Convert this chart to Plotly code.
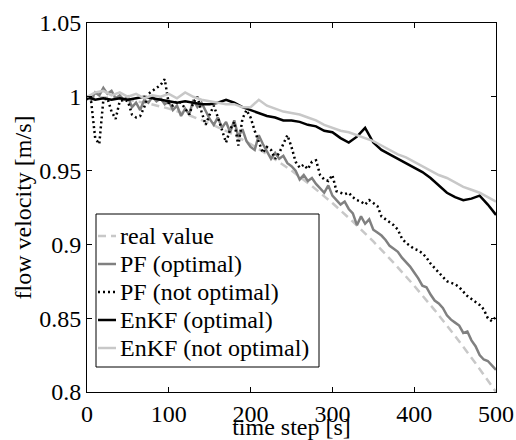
import plotly.graph_objects as go

# ---- data ----
t_real = list(range(0, 501, 25))
real_value = [1.0, 0.9995, 0.998, 0.9955, 0.992, 0.9875, 0.982, 0.9755, 0.968, 0.9595,
              0.95, 0.9395, 0.928, 0.9155, 0.902, 0.8875, 0.872, 0.8555, 0.838, 0.8195, 0.80]

t_pf = list(range(0, 501, 5))
pf_optimal = [
    1.000, 0.998, 1.003, 1.001, 1.006, 1.002, 1.004, 0.999, 1.001, 0.998,
    1.000, 0.993, 0.996, 0.991, 0.998, 0.996, 1.000, 0.997, 0.999, 0.995,
    0.997, 0.991, 0.994, 0.987, 0.992, 0.988, 0.998, 0.993, 0.996, 0.990,
    0.985, 0.981, 0.986, 0.979, 0.983, 0.976, 0.984, 0.973, 0.978, 0.970,
    0.966, 0.964, 0.974, 0.968, 0.963, 0.958, 0.962, 0.958, 0.960, 0.955,
    0.953, 0.950, 0.944, 0.947, 0.943, 0.945, 0.941, 0.938, 0.935, 0.940,
    0.933, 0.930, 0.927, 0.929, 0.924, 0.921, 0.913, 0.919, 0.914, 0.917,
    0.910, 0.908, 0.906, 0.903, 0.899, 0.897, 0.895, 0.891, 0.888, 0.885,
    0.881, 0.877, 0.872, 0.871, 0.866, 0.862, 0.860, 0.857, 0.852, 0.849,
    0.847, 0.845, 0.840, 0.841, 0.835, 0.831, 0.825, 0.822, 0.821, 0.818,
    0.815]
pf_not_optimal = [
    0.999, 0.997, 0.972, 0.968, 0.998, 0.999, 0.990, 0.985, 0.997, 0.998,
    0.997, 0.988, 0.986, 0.987, 0.993, 1.002, 1.004, 1.006, 1.008, 1.012,
    0.995, 0.994, 0.997, 0.996, 0.992, 0.988, 0.996, 1.000, 0.990, 0.981,
    0.988, 0.994, 0.986, 0.978, 0.969, 0.978, 0.983, 0.967, 0.985, 0.991,
    0.986, 0.977, 0.970, 0.962, 0.966, 0.964, 0.958, 0.962, 0.968, 0.974,
    0.966, 0.956, 0.952, 0.954, 0.951, 0.956, 0.957, 0.947, 0.944, 0.943,
    0.947, 0.936, 0.935, 0.934, 0.935, 0.932, 0.930, 0.929, 0.927, 0.930,
    0.928, 0.926, 0.919, 0.917, 0.915, 0.913, 0.910, 0.904, 0.901, 0.899,
    0.897, 0.896, 0.894, 0.891, 0.887, 0.884, 0.881, 0.878, 0.875, 0.874,
    0.873, 0.871, 0.868, 0.865, 0.863, 0.861, 0.859, 0.856, 0.850, 0.848,
    0.851]

t_enkf = list(range(0, 501, 10))
enkf_optimal = [
    1.000, 0.998, 0.999, 0.998, 0.999, 0.998, 0.999, 1.000, 0.999, 0.998,
    0.997, 0.996, 0.997, 0.996, 0.995, 0.995, 0.996, 0.998, 0.996, 0.993,
    0.991, 0.989, 0.987, 0.986, 0.984, 0.984, 0.983, 0.981, 0.980, 0.977,
    0.976, 0.972, 0.969, 0.973, 0.979, 0.969, 0.964, 0.961, 0.958, 0.955,
    0.952, 0.949, 0.945, 0.940, 0.935, 0.932, 0.930, 0.931, 0.933, 0.927,
    0.920]
enkf_not_optimal = [
    1.000, 1.003, 1.004, 1.001, 1.003, 1.000, 1.002, 0.999, 1.001, 1.000,
    1.002, 0.999, 1.003, 1.000, 0.998, 0.997, 0.996, 0.995, 0.995, 0.993,
    0.993, 0.998, 0.994, 0.992, 0.990, 0.989, 0.988, 0.986, 0.984, 0.981,
    0.979, 0.977, 0.976, 0.974, 0.972, 0.970, 0.967, 0.964, 0.961, 0.959,
    0.956, 0.953, 0.950, 0.947, 0.945, 0.942, 0.939, 0.937, 0.935, 0.932,
    0.929]

series_names = ["real value", "PF (optimal)", "PF (not optimal)",
                "EnKF (optimal)", "EnKF (not optimal)"]

x_ticks = [0, 100, 200, 300, 400, 500]
y_ticks = [0.8, 0.85, 0.9, 0.95, 1.0, 1.05]
y_tick_labels = ["0.8", "0.85", "0.9", "0.95", "1", "1.05"]

FONT = "Liberation Serif, Times New Roman, serif"
FS = 24

styles = [
    dict(color="#c8c8c8", width=2.5, dash="8px,5px"),
    dict(color="#808080", width=2.5),
    dict(color="#000000", width=2.5, dash="2px,3px"),
    dict(color="#000000", width=2.5),
    dict(color="#c8c8c8", width=2.5),
]
xs = [t_real, t_pf, t_pf, t_enkf, t_enkf]
ys = [real_value, pf_optimal, pf_not_optimal, enkf_optimal, enkf_not_optimal]

fig = go.Figure()
for name, x, y, st in zip(series_names, xs, ys, styles):
    fig.add_trace(go.Scatter(x=x, y=y, mode="lines", name=name, line=st,
                             showlegend=False))

axis_common = dict(showline=True, linecolor="black", linewidth=1, mirror="ticks",
                   ticks="inside", ticklen=5, tickcolor="black", showgrid=False,
                   zeroline=False, automargin=False,
                   tickfont=dict(family=FONT, size=FS, color="black"))

# plot area in pixels: left 87, right 496, top 23, bottom 392
L, R, T, B = 87, 496, 23, 392
W, H = R - L, B - T


def px_x(p):
    return (p - L) / W


def px_y(p):
    return (B - p) / H


shapes = []
annotations = []
# hand-placed legend box (MATLAB-style, compact)
shapes.append(dict(type="rect", xref="paper", yref="paper",
                   x0=px_x(96), x1=px_x(319), y0=px_y(367), y1=px_y(214),
                   line=dict(color="black", width=1), fillcolor="white", layer="above"))
row_y = [236, 264, 292, 320, 348]
for name, st, ry in zip(series_names, styles, row_y):
    shapes.append(dict(type="line", xref="paper", yref="paper",
                       x0=px_x(98), x1=px_x(116), y0=px_y(ry), y1=px_y(ry),
                       line=dict(color=st["color"], width=st["width"],
                                 dash=st.get("dash", "solid")), layer="above"))
    annotations.append(dict(text=name, xref="paper", yref="paper",
                            x=px_x(118), y=px_y(ry), xanchor="left", yanchor="middle",
                            showarrow=False,
                            font=dict(family=FONT, size=FS, color="black")))

fig.update_layout(
    width=516, height=440,
    margin=dict(l=L, r=516 - R, t=T, b=440 - B),
    paper_bgcolor="white", plot_bgcolor="white",
    font=dict(family=FONT, size=FS, color="black"),
    xaxis=dict(range=[0, 500], tickvals=x_ticks,
               title=dict(text="time step [s]", font=dict(family=FONT, size=FS), standoff=0),
               **axis_common),
    yaxis=dict(range=[0.8, 1.05], tickvals=y_ticks, ticktext=y_tick_labels,
               title=dict(text="flow velocity [m/s]", font=dict(family=FONT, size=FS), standoff=0),
               **axis_common),
    shapes=shapes,
    annotations=annotations,
    showlegend=False,
)

fig.write_html("out.html",
               config={"displayModeBar": False},
               post_script="document.body.style.margin='0';document.body.style.overflow='hidden';")
